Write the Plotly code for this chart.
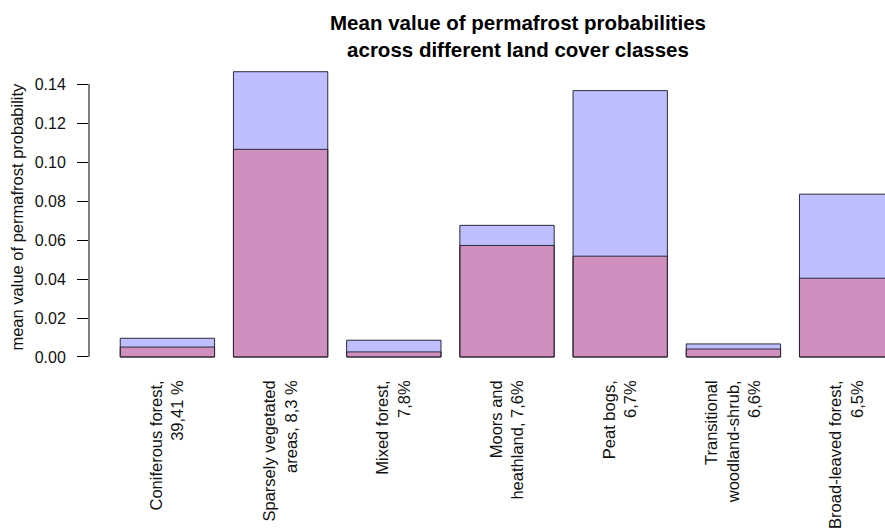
import plotly.graph_objects as go

categories = [
    "Coniferous forest,<br>39,41 %",
    "Sparsely vegetated<br>areas, 8,3 %",
    "Mixed forest,<br>7,8%",
    "Moors and<br>heathland, 7,6%",
    "Peat bogs,<br>6,7%",
    "Transitional<br>woodland-shrub,<br>6,6%",
    "Broad-leaved forest,<br>6,5%",
]
blue_values = [0.0096, 0.1463, 0.0086, 0.0675, 0.1366, 0.0067, 0.0835]
pink_values = [0.0051, 0.1065, 0.0026, 0.0572, 0.0517, 0.0041, 0.0404]
y_ticks = [0.00, 0.02, 0.04, 0.06, 0.08, 0.10, 0.12, 0.14]

FONT = "Liberation Sans, Arial, sans-serif"

fig = go.Figure()
fig.add_trace(go.Bar(
    x=categories, y=blue_values,
    marker=dict(color="rgba(0,0,255,0.25)", line=dict(color="#2a2a3a", width=1)),
    showlegend=False, hoverinfo="skip",
))
fig.add_trace(go.Bar(
    x=categories, y=pink_values,
    marker=dict(color="rgba(255,0,0,0.25)", line=dict(color="#2a2a3a", width=1)),
    showlegend=False, hoverinfo="skip",
))

fig.update_layout(
    width=885, height=529,
    margin=dict(l=89, r=0, t=60, b=159),
    paper_bgcolor="white", plot_bgcolor="white",
    barmode="overlay", bargap=0.1667,
    font=dict(family=FONT, size=16, color="black"),
    title=dict(
        text="<b>Mean value of permafrost probabilities<br>across different land cover classes</b>",
        x=518 / 885, xref="container", xanchor="center",
        y=1 - 30 / 529, yref="container", yanchor="middle",
        font=dict(family=FONT, size=20.5, color="black"),
    ),
    xaxis=dict(
        range=[-0.6926, 6.339], showgrid=False, showline=False, zeroline=False,
        ticks="", tickangle=-90, ticklabelstandoff=6,
        tickfont=dict(family=FONT, size=16.5, color="#111"),
    ),
    yaxis=dict(
        range=[-0.00667, 0.15231], showgrid=False, showline=False, zeroline=False,
        tickvals=y_ticks, ticktext=[f"{v:.2f}" for v in y_ticks],
        ticks="outside", ticklen=11, tickcolor="black", tickwidth=1,
        ticklabelstandoff=8,
        tickfont=dict(family=FONT, size=16, color="#111"),
    ),
    shapes=[dict(
        type="line", xref="paper", yref="y", x0=0, x1=0,
        y0=y_ticks[0], y1=y_ticks[-1], line=dict(color="black", width=1),
    )],
    annotations=[dict(
        text="mean value of permafrost probability",
        xref="paper", yref="paper", x=-(89 - 17) / 796, y=0.495,
        xanchor="center", yanchor="middle", textangle=-90, showarrow=False,
        font=dict(family=FONT, size=16.5, color="#111"),
    )],
)

fig.write_html("out.html")
